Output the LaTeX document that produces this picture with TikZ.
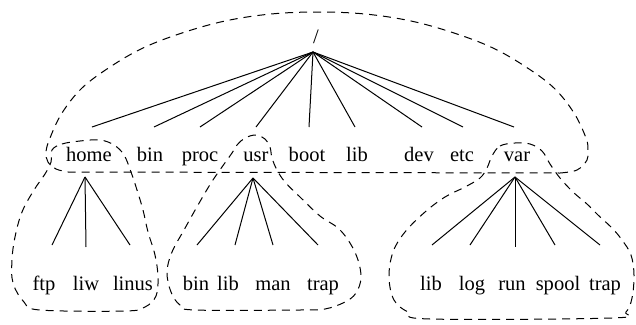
\documentclass[tikz,border=0pt]{standalone}
\usepackage{fontspec}
\setmainfont{Liberation Serif}
\begin{document}
\begin{tikzpicture}[x=0.75pt,y=-0.75pt,
  lbl/.style={anchor=base, inner sep=0pt, font=\fontsize{15.4}{18}\selectfont},
  edge/.style={line width=0.75pt},
  outline/.style={line width=0.75pt, dash pattern=on 6pt off 4.5pt}]
\useasboundingbox (0,0) rectangle (636,325);

% root
\node[lbl] (rootlbl) at (316,43) {/};
\coordinate (r) at (313,52);

% level 1 labels
\node[lbl] (home) at (89,161) {home};
\node[lbl] (bin) at (150,161) {bin};
\node[lbl] (proc) at (200,161) {proc};
\node[lbl] (usr) at (256,161) {usr};
\node[lbl] (boot) at (307,161) {boot};
\node[lbl] (lib) at (357,161) {lib};
\node[lbl] (dev) at (419,161) {dev};
\node[lbl] (etc) at (462,161) {etc};
\node[lbl] (var) at (517,161) {var};

% line ends above level 1 labels
\coordinate (t-home) at (92,127);
\coordinate (t-bin) at (154,127);
\coordinate (t-proc) at (200,127);
\coordinate (t-usr) at (256,127);
\coordinate (t-boot) at (309,127);
\coordinate (t-lib) at (355,127);
\coordinate (t-dev) at (422,127);
\coordinate (t-etc) at (463,127);
\coordinate (t-var) at (514,127);
\foreach \n in {home,bin,proc,usr,boot,lib,dev,etc,var}
  \draw[edge] (r) -- (t-\n);

% parent points
\coordinate (hp) at (85,177);
\coordinate (up) at (253,178);
\coordinate (vp) at (515,177);

% level 2 labels
\node[lbl] (ftp) at (44,290) {ftp};
\node[lbl] (liw) at (86,290) {liw};
\node[lbl] (linus) at (133,290) {linus};
\node[lbl] (ubin) at (196,290) {bin};
\node[lbl] (ulib) at (228,290) {lib};
\node[lbl] (uman) at (273,290) {man};
\node[lbl] (utrap) at (323,290) {trap};
\node[lbl] (vlib) at (431,290) {lib};
\node[lbl] (vlog) at (472,290) {log};
\node[lbl] (vrun) at (512,290) {run};
\node[lbl] (vspool) at (558,290) {spool};
\node[lbl] (vtrap) at (605,290) {trap};

\coordinate (t-ftp) at (52,245);
\coordinate (t-liw) at (86,247);
\coordinate (t-linus) at (130,245);
\coordinate (t-ubin) at (197,245);
\coordinate (t-ulib) at (235,245);
\coordinate (t-uman) at (273,245);
\coordinate (t-utrap) at (318,245);
\coordinate (t-vlib) at (432,245);
\coordinate (t-vlog) at (470,245);
\coordinate (t-vrun) at (515,247);
\coordinate (t-vspool) at (555,245);
\coordinate (t-vtrap) at (600,245);

\foreach \n in {ftp,liw,linus} \draw[edge] (hp) -- (t-\n);
\foreach \n in {ubin,ulib,uman,utrap} \draw[edge] (up) -- (t-\n);
\foreach \n in {vlib,vlog,vrun,vspool,vtrap} \draw[edge] (vp) -- (t-\n);

% big outline
\draw[outline] plot[smooth, tension=0.6] coordinates {(560,173) (577,170) (587,160) (588,150) (586,138) (574,113) (554,88) (526,67) (493,48) (454,33) (411,21) (365,14) (318,12) (271,14) (225,21) (182,33) (143,48) (110,67) (82,88) (62,113) (50,138) (46,152) (48,162) (56,169) (68,172)} -- cycle;

% home subtree outline
\draw[outline] plot[smooth cycle, tension=0.6] coordinates {(52,150) (62,144) (80,141) (100,140) (114,145) (124,155) (131,172) (137,190) (143,210) (148,232) (155,255) (158,277) (156,296) (145,307) (125,311) (40,310) (24,302) (13,283) (12,260) (15,237) (22,212) (34,190) (45,174) (51,162)};

% usr subtree outline
\draw[outline] plot[smooth cycle, tension=0.6] coordinates {(232,153) (237,145) (245,138) (256,135) (265,139) (270,147) (272,158) (277,170) (285,182) (300,197) (320,216) (338,228) (350,243) (358,260) (361,278) (356,293) (345,302) (325,309) (300,310) (195,310) (180,305) (171,292) (167,272) (172,252) (184,230) (198,205) (211,183) (222,167)};

% var subtree outline
\draw[outline] plot[smooth cycle, tension=0.6] coordinates {(492,156) (500,146) (515,143) (530,144) (542,151) (550,164) (560,178) (573,192) (587,204) (598,215) (612,228) (622,240) (631,255) (634,275) (632,298) (626,312) (612,318) (430,319) (408,312) (394,300) (389,277) (393,252) (405,232) (425,212) (445,197) (465,187) (480,178) (487,168)};
\end{tikzpicture}
\end{document}
